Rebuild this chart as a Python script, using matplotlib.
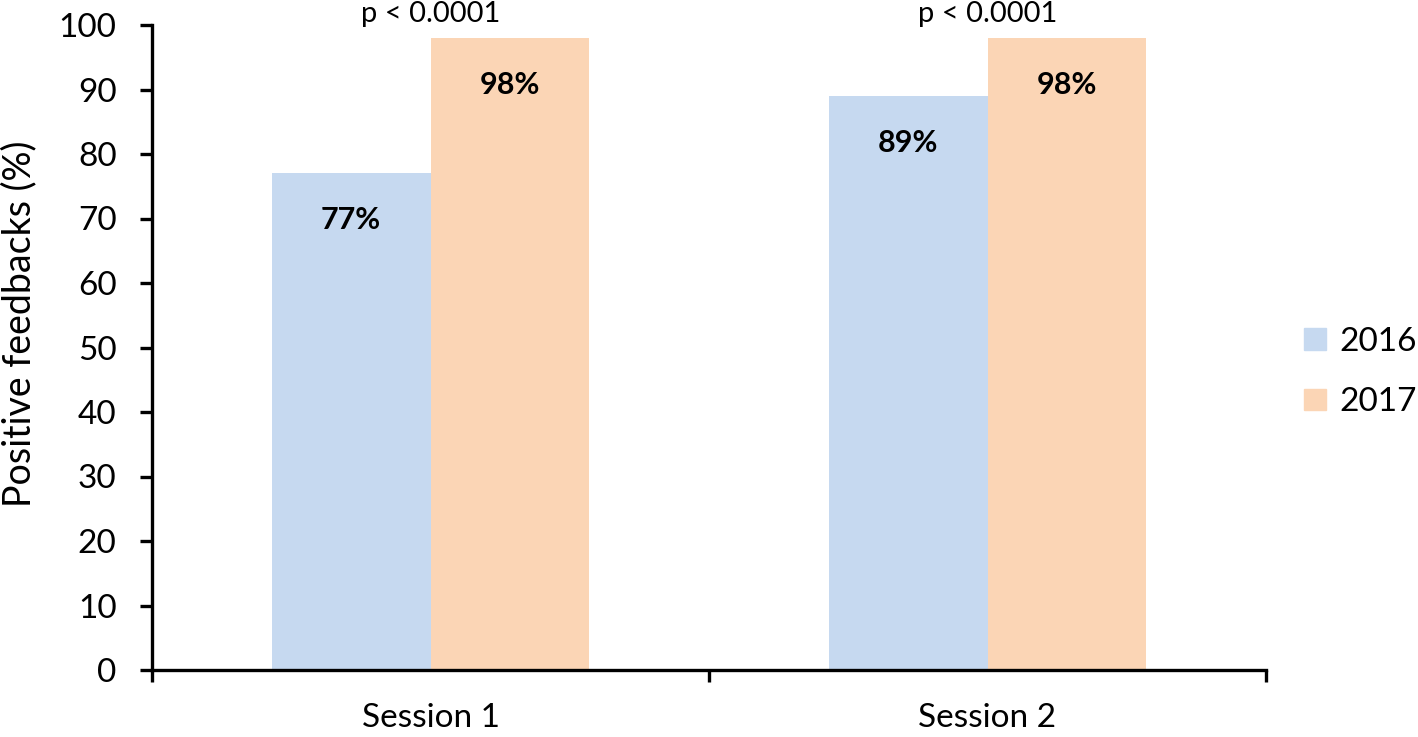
import numpy as np
import matplotlib.pyplot as plt
from matplotlib.patches import Patch

# values
sessions = ['Session 1', 'Session 2']
years = ['2016', '2017']
vals_2016 = [77, 89]
vals_2017 = [98, 98]
labels_2016 = ['77%', '89%']
labels_2017 = ['98%', '98%']
pvalues = ['p < 0.0001', 'p < 0.0001']

c2016 = '#C6D9F0'
c2017 = '#FBD5B5'

plt.rcParams['font.family'] = ['Lato', 'DejaVu Sans']

fig = plt.figure(figsize=(14.18, 7.37), dpi=100)
ax = fig.add_axes([152 / 1418, 67 / 737, (1266 - 152) / 1418, (670 - 25) / 737])

x = np.arange(len(sessions))
w = 0.285
ax.bar(x - w / 2, vals_2016, w, color=c2016)
ax.bar(x + w / 2, vals_2017, w, color=c2017)

for i in range(len(sessions)):
    ax.text(x[i] - w / 2, vals_2016[i] - 7.3, labels_2016[i], ha='center', va='center',
            fontsize=22, fontweight='bold')
    ax.text(x[i] + w / 2, vals_2017[i] - 7.3, labels_2017[i], ha='center', va='center',
            fontsize=22, fontweight='bold')
    ax.text(x[i], 100.4, pvalues[i], ha='center', va='baseline', fontsize=21,
            clip_on=False)

ax.set_xlim(-0.5, 1.5)
ax.set_ylim(0, 100)
ax.set_yticks(range(0, 101, 10))
ax.set_xticks(x)
ax.set_xticklabels(sessions)
ax.set_xticks([-0.5, 0.5, 1.5], minor=True)
ax.tick_params(axis='x', which='major', length=0, pad=24, labelsize=24)
ax.tick_params(axis='x', which='minor', length=8.5, width=2.4, direction='out')
ax.tick_params(axis='y', length=8.5, width=2.4, direction='out', labelsize=24, pad=17)

for s in ['top', 'right']:
    ax.spines[s].set_visible(False)
for s in ['left', 'bottom']:
    ax.spines[s].set_linewidth(2.4)

fig.text(19 / 1418, 1 - 324 / 737, 'Positive feedbacks (%)', rotation=90,
         ha='center', va='center', fontsize=27)

handles = [Patch(color=c2016, label=years[0]), Patch(color=c2017, label=years[1])]
fig.legend(handles=handles, loc='center left', bbox_to_anchor=(1304 / 1418, 1 - 372 / 737),
           frameon=False, fontsize=24, handlelength=0.65, handleheight=0.62,
           handletextpad=0.4, labelspacing=0.92, borderpad=0, borderaxespad=0)

fig.savefig('out.png', dpi=100)
